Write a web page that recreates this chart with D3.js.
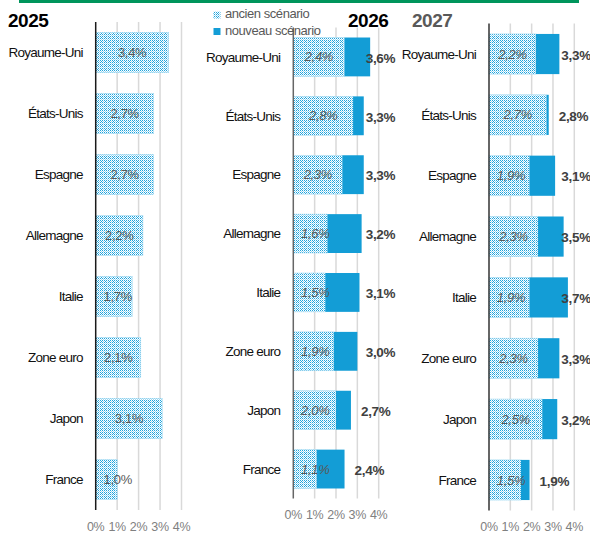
<!DOCTYPE html>
<html><head><meta charset="utf-8">
<script src="https://cdn.jsdelivr.net/npm/d3@7"></script>
<style>
html,body{margin:0;padding:0;background:#fff;}
svg{display:block;font-family:"Liberation Sans",Arial,sans-serif;}
</style></head>
<body>
<div id="chart"></div>
<script>
const categories = ["Royaume-Uni","États-Unis","Espagne","Allemagne","Italie","Zone euro","Japon","France"];
const values2025 = [3.4,2.7,2.7,2.2,1.7,2.1,3.1,1.0];
const old2026 = [2.4,2.8,2.3,1.6,1.5,1.9,2.0,1.1];
const new2026 = [3.6,3.3,3.3,3.2,3.1,3.0,2.7,2.4];
const old2027 = [2.2,2.7,1.9,2.3,1.9,2.3,2.5,1.5];
const new2027 = [3.3,2.8,3.1,3.5,3.7,3.3,3.2,1.9];
const xTicks = [0,1,2,3,4];
const tickLabels = ["0%","1%","2%","3%","4%"];
const legendLabels = ["ancien scénario","nouveau scénario"];
const years = ["2025","2026","2027"];

const W = 590, H = 533;
const fr = d3.formatLocale({decimal:",",thousands:" ",grouping:[3],currency:["","€"]});
const fmt = v => fr.format(".1f")(v) + "%";

const svg = d3.select("#chart").append("svg").attr("width",W).attr("height",H);
const defs = svg.append("defs");
const pat = defs.append("pattern").attr("id","hatch").attr("patternUnits","userSpaceOnUse")
  .attr("width",4).attr("height",4);
pat.append("rect").attr("width",4).attr("height",4).attr("fill","#ffffff");
[[0,0],[2,0],[1,1],[0,2],[2,2],[3,3],[1,3],[3,1]].forEach(([px,py],i)=>{
  pat.append("rect").attr("x",px).attr("y",py).attr("width",1).attr("height",1)
    .attr("fill", i<5 ? "#1ea3dc" : "#9ad6f1");
});

const BLUE = "#139dd6";

// green top rule
svg.append("rect").attr("x",19).attr("y",0).attr("width",560).attr("height",3).attr("fill","#00955c");

const panels = [
  {year:years[0], x0:95.7, x4:181.5, y0:22, y1:510, old:values2025, nw:null, axisColor:"#1a1a1a", titleX:8, titleColor:"#000"},
  {year:years[1], x0:293.3, x4:378.7, y0:27.5, y1:498.5, old:old2026, nw:new2026, axisColor:"#666666", titleX:348, titleColor:"#000"},
  {year:years[2], x0:489, x4:574.3, y0:23.6, y1:510.4, old:old2027, nw:new2027, axisColor:"#333333", titleX:412, titleColor:"#595959"}
];

panels.forEach(p=>{
  const g = svg.append("g");
  const x = d3.scaleLinear().domain([0,4]).range([p.x0,p.x4]);
  const y = d3.scaleBand().domain(categories).range([p.y0,p.y1]).paddingInner(0.34).paddingOuter(0.17);

  g.selectAll(".grid").data(xTicks.slice(1)).join("line")
    .attr("x1",d=>x(d)).attr("x2",d=>x(d)).attr("y1",p.y0).attr("y2",p.y1)
    .attr("stroke","#d9d9d9").attr("stroke-width",1.5);

  g.selectAll(".tick").data(xTicks).join("text")
    .attr("x",d=>x(d)).attr("y",p.y1+20.5).attr("text-anchor","middle")
    .attr("font-size",12.5).attr("letter-spacing",-0.3).attr("fill","#808080").text((d,i)=>tickLabels[i]);

  g.selectAll(".old").data(categories).join("rect")
    .attr("x",x(0)).attr("y",d=>y(d)).attr("height",y.bandwidth())
    .attr("width",(d,i)=>x(p.old[i])-x(0))
    .attr("fill","url(#hatch)").attr("stroke","#a8dcf3").attr("stroke-width",0.6);

  if(p.nw){
    g.selectAll(".new").data(categories).join("rect")
      .attr("x",(d,i)=>x(p.old[i])).attr("y",d=>y(d)).attr("height",y.bandwidth())
      .attr("width",(d,i)=>x(p.nw[i])-x(p.old[i]))
      .attr("fill",BLUE);
    g.selectAll(".newlab").data(categories).join("text")
      .attr("x",(d,i)=>Math.min(x(p.nw[i])+10, x(4)-13))
      .attr("y",d=>y(d)+y.bandwidth()/2+1).attr("dy","0.35em")
      .attr("font-size",13.5).attr("font-weight","bold").attr("letter-spacing",-0.3).attr("fill","#404040")
      .text((d,i)=>fmt(p.nw[i]));
  }

  g.selectAll(".oldlab").data(categories).join("text")
    .attr("x",(d,i)=>Math.max((x(0)+x(p.old[i]))/2, x(0)+22))
    .attr("y",d=>y(d)+y.bandwidth()/2).attr("dy","0.35em")
    .attr("text-anchor","middle").attr("font-size",13).attr("letter-spacing",-0.3)
    .attr("font-style",p.nw?"italic":"normal").attr("fill","#595959")
    .text((d,i)=>fmt(p.old[i]));

  g.append("line").attr("x1",x(0)).attr("x2",x(0)).attr("y1",p.y0).attr("y2",p.y1)
    .attr("stroke",p.axisColor).attr("stroke-width",1.5);

  g.selectAll(".cat").data(categories).join("text")
    .attr("x",x(0)-13).attr("y",d=>y(d)+y.bandwidth()/2).attr("dy","0.35em")
    .attr("text-anchor","end").attr("font-size",13.5).attr("letter-spacing",-0.75)
    .attr("fill","#111").text(d=>d);

  svg.append("text").attr("x",p.titleX).attr("y",26.5).attr("font-size",19)
    .attr("font-weight","bold").attr("letter-spacing",-0.5).attr("fill",p.titleColor).text(p.year);
});

const lg = svg.append("g");
legendLabels.forEach((t,i)=>{
  lg.append("rect").attr("x",213.5).attr("y",11.5+i*16.5).attr("width",7).attr("height",7)
    .attr("fill", i===0 ? "url(#hatch)" : BLUE);
  lg.append("text").attr("x",225).attr("y",18+i*16.5).attr("font-size",13)
    .attr("letter-spacing",-0.45).attr("fill","#595959").text(t);
});
</script>
</body></html>
